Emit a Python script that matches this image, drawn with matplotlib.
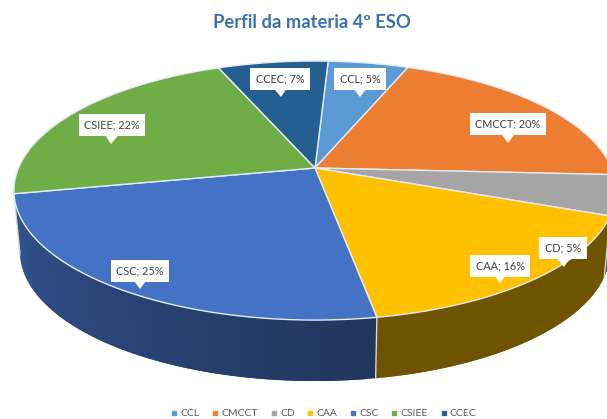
import numpy as np
import matplotlib
matplotlib.use('Agg')
from matplotlib import pyplot as plt
from matplotlib.lines import Line2D

plt.rcParams['font.family'] = ['Lato', 'DejaVu Sans']

# data
categories = ['CCL', 'CMCCT', 'CD', 'CAA', 'CSC', 'CSIEE', 'CCEC']
values = [5.1, 19.9, 5.0, 16.4, 24.6, 22.0, 7.0]
percent_labels = [5, 20, 5, 16, 25, 22, 7]
colors = ['#5b9bd5', '#ed7d31', '#a5a5a5', '#ffc000', '#4472c4', '#70ad47', '#255e91']

# label box centre and arrow tip, in pixels
label_pos = [(360, 79), (508, 124), (563, 248), (500, 266), (140, 271), (112, 125), (280, 79)]
arrow_tip = [(360, 97), (508, 143), (564, 267), (500, 283), (140, 289), (111, 144), (281, 97)]

# pie geometry in pixels
cx, cy = 315, 168
rx, ry = 296.5, 125.6
persp = 0.174
depth = 61
start_angle = 3.0


def rim(theta_deg):
    # perspective view of a circle, angle runs clockwise from the back
    t = np.radians(theta_deg)
    d = 1 + persp * np.cos(t)
    return cx + rx * np.sin(t) / d, cy - ry * np.cos(t) / d


def lower_rim(theta_deg):
    x, y = rim(theta_deg)
    return cx + (x - cx) * 0.98, y + depth


def shaded(color, f):
    return tuple(c * f for c in matplotlib.colors.to_rgb(color))


fig = plt.figure(figsize=(6.07, 4.19), dpi=100)
ax = fig.add_axes([0, 0, 1, 1])
ax.set_xlim(0, 607)
ax.set_ylim(419, 0)
ax.axis('off')

edges = start_angle + np.cumsum([0] + values) * 3.6
edge_col = '#e6ecf4'

# side wall, only the front part is visible
for i, col in enumerate(colors):
    a0, a1 = max(edges[i], 100), min(edges[i + 1], 260)
    if a0 >= a1:
        continue
    steps = np.arange(a0, a1 + 1.5, 1.5)
    steps[-1] = a1
    for s0, s1 in zip(steps[:-1], steps[1:]):
        mid = (s0 + s1) / 2
        f = 0.43 if mid < edges[4] else np.interp(mid, [edges[4], 260], [0.47, 0.74])
        # each strip runs under the next one so no seams show
        ss = np.array([s0, min(s1 + 1.5, a1)])
        xt, yt = rim(ss)
        xb, yb = lower_rim(ss[::-1])
        ax.fill(np.r_[xt, xb], np.r_[yt, yb], color=shaded(col, f), lw=0, zorder=1)
    # seam between two slices on the wall
    if edges[i + 1] < 260:
        xt, yt = rim(a1)
        xb, yb = lower_rim(a1)
        ax.plot([xt, xb], [yt, yb], color='#d8d8d0', lw=1.0, zorder=2)

# top face
for i, col in enumerate(colors):
    th = np.linspace(edges[i], edges[i + 1], 80)
    x, y = rim(th)
    ax.fill(np.r_[cx, x], np.r_[cy, y], facecolor=col, edgecolor=edge_col, lw=1.0, zorder=3,
            joinstyle='round')

# data labels
for i, cat in enumerate(categories):
    bx, by = label_pos[i]
    ax.annotate('', xy=arrow_tip[i], xytext=(bx, by), xycoords='data',
                arrowprops=dict(arrowstyle='simple,head_width=0.9,head_length=0.6,tail_width=0.45',
                                color='white', lw=0, shrinkA=0, shrinkB=0), zorder=5)
    ax.text(bx, by, f'{cat}; {percent_labels[i]}%', ha='center', va='center', fontsize=7.8,
            color='#404040', zorder=6,
            bbox=dict(boxstyle='square,pad=0.5', facecolor='white', edgecolor='none'))

ax.text(312, 23, 'Perfil da materia 4º ESO', ha='center', va='center', fontsize=13.2,
        fontweight='bold', color='#3a72ad')

handles = [Line2D([], [], linestyle='none', marker='s', markersize=2.4, color=c, label=n)
           for c, n in zip(colors, categories)]
ax.legend(handles=handles, ncol=7, frameon=False, loc='center', bbox_to_anchor=(0.532, 0.013),
          fontsize=7.5, labelcolor='#595959', handletextpad=0.1, columnspacing=1.0,
          borderpad=0, handlelength=1)

plt.savefig('out.png', dpi=100)
plt.close()
